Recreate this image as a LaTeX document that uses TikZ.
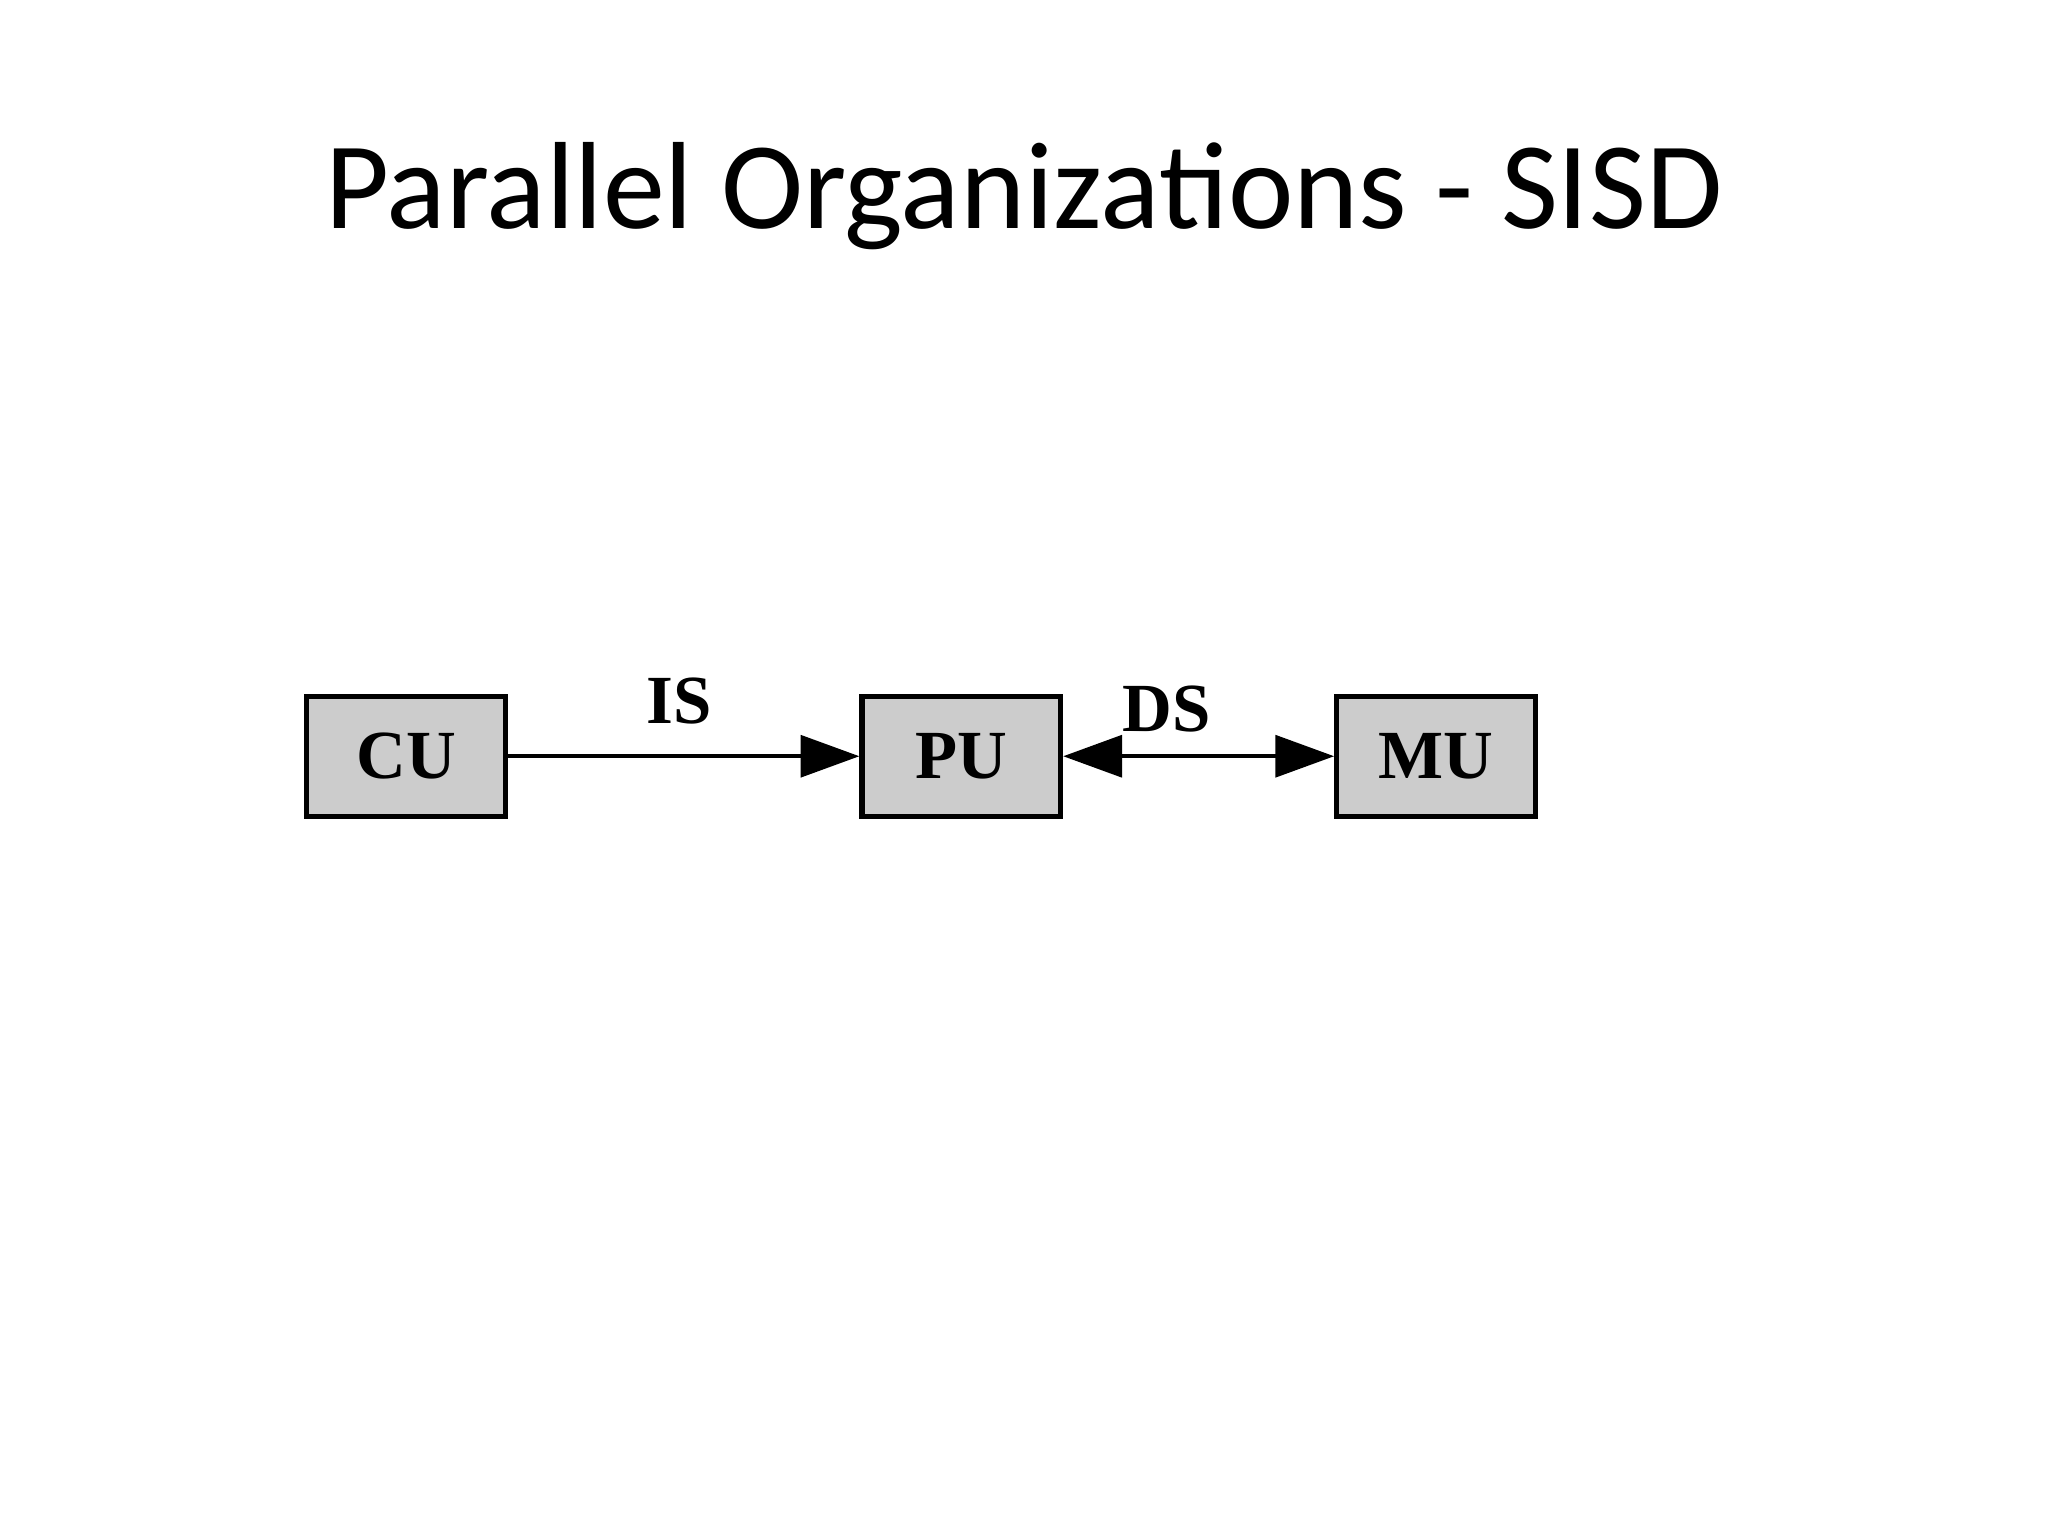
\documentclass[tikz,border=0pt]{standalone}
\usepackage{fontspec}
\setmainfont{Liberation Serif}
\newfontfamily\titlefont{Carlito}
\usetikzlibrary{arrows.meta}
\begin{document}
\begin{tikzpicture}[x=0.01cm,y=-0.01cm,
  unit/.style={draw=black,line width=0.04cm,fill=black!20,minimum width=1.52cm,minimum height=0.92cm,inner sep=0pt,font=\fontsize{15}{15}\selectfont\bfseries},
  conn/.style={line width=0.03cm},
  lbl/.style={font=\fontsize{15}{15}\selectfont\bfseries}]
\useasboundingbox (0,0) rectangle (1568,1176);
\node[font=\titlefont\fontsize{27}{27}\selectfont] (title) at (784,150) {Parallel Organizations - SISD};
\node[unit] (cu) at (311,579) {CU};
\node[unit] (pu) at (736,579) {PU};
\node[unit] (mu) at (1099.5,579) {MU};
\draw[conn,-{Triangle[length=0.45cm,width=0.32cm]}] (cu) -- (pu);
\draw[conn,{Triangle[length=0.45cm,width=0.32cm]}-{Triangle[length=0.45cm,width=0.32cm]}] (pu) -- (mu);
\node[lbl] (is) at (520,537) {IS};
\node[lbl] (ds) at (893,543) {DS};
\end{tikzpicture}
\end{document}
